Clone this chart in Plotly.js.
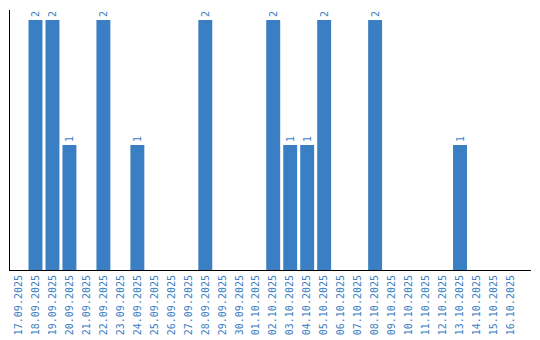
<!DOCTYPE html>
<html>
<head>
<meta charset="utf-8">
<script src="https://cdn.plot.ly/plotly-3.0.1.min.js"></script>
<style>html,body{margin:0;padding:0;background:#fff}</style>
</head>
<body>
<div id="chart" style="width:540px;height:340px"></div>
<script>
const dates = ["17.09.2025","18.09.2025","19.09.2025","20.09.2025","21.09.2025","22.09.2025","23.09.2025","24.09.2025","25.09.2025","26.09.2025","27.09.2025","28.09.2025","29.09.2025","30.09.2025","01.10.2025","02.10.2025","03.10.2025","04.10.2025","05.10.2025","06.10.2025","07.10.2025","08.10.2025","09.10.2025","10.10.2025","11.10.2025","12.10.2025","13.10.2025","14.10.2025","15.10.2025","16.10.2025"];
const counts = [0,2,2,1,0,2,0,1,0,0,0,2,0,0,0,2,1,1,2,0,0,2,0,0,0,0,1,0,0,0];
const labels = counts.map(v => v > 0 ? String(v) : "");
const blue = "#3a7ec3";
Plotly.newPlot("chart", [{
  type: "bar",
  x: dates,
  y: counts,
  text: labels,
  textposition: "outside",
  textangle: -90,
  cliponaxis: false,
  textfont: {family: "DejaVu Sans Mono", size: 10, color: blue},
  marker: {color: blue},
  hoverinfo: "none"
}], {
  width: 540, height: 340,
  margin: {l: 10, r: 9, t: 10, b: 70},
  paper_bgcolor: "#fff", plot_bgcolor: "#fff",
  bargap: 0.18,
  showlegend: false,
  xaxis: {
    type: "category",
    range: [-0.5, 30.18],
    tickangle: -90,
    tickfont: {family: "DejaVu Sans Mono", size: 10, color: blue},
    showline: true, linecolor: "#000", linewidth: 1,
    showgrid: false, ticks: "", zeroline: false
  },
  yaxis: {
    range: [0, 2.08],
    showticklabels: false,
    showline: true, linecolor: "#000", linewidth: 1,
    showgrid: false, zeroline: false, ticks: ""
  }
}, {displayModeBar: false, staticPlot: true});
</script>
</body>
</html>
